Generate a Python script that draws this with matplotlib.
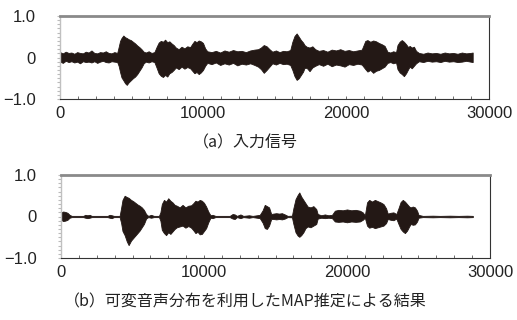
import matplotlib
matplotlib.use("Agg")
import matplotlib.pyplot as plt
from matplotlib.ticker import MultipleLocator

plt.rcParams['font.family'] = ['Liberation Sans', 'DejaVu Sans']

# ---------------- data (envelopes) ----------------
x_ticks = [0, 10000, 20000, 30000]
x_tick_labels = ["0", "10000", "20000", "30000"]
y_ticks = [-1.0, 0.0, 1.0]
y_tick_labels = ["\u22121.0", "0", "1.0"]

caption_a = "（a）入力信号"
caption_b = "（b）可変音声分布を利用したMAP推定による結果"

a_samples = [0, 200, 400, 600, 800, 1000, 1200, 1400, 1600, 1800, 2000, 2200, 2400, 2600, 2800,
             3000, 3200, 3400, 3600, 3800, 4000,
             4100, 4200, 4300, 4430, 4550, 4670, 4800, 4950, 5100, 5250, 5400, 5550, 5700, 5850,
             6000, 6200, 6400, 6600,
             6760, 6900, 7050, 7200, 7350, 7500, 7650, 7800, 7950,
             8100, 8300, 8500, 8700, 8900, 9100,
             9250, 9400, 9550, 9700, 9850, 10000, 10150,
             10300, 10600, 10900, 11200, 11500, 11800, 12100, 12400, 12700, 13000, 13300, 13600, 13850,
             14050, 14250, 14450, 14650,
             14850, 15100, 15350, 15600, 15850, 16100,
             16250, 16400, 16550, 16700, 16850, 17000, 17100,
             17250, 17450, 17650, 17850,
             18100, 18400, 18700, 19000, 19300, 19600, 19900, 20200, 20500, 20800, 21100,
             21350, 21500, 21700, 21900, 22100, 22300, 22500, 22700,
             22900, 23100, 23300, 23500,
             23600, 23750, 23900, 24050, 24200, 24350,
             24450, 24600, 24750, 24900,
             25100, 25400, 25700, 26000, 26300, 26600, 26900, 27200, 27500, 27800, 28100, 28400, 28700, 28860]
a_upper = [0.13, 0.10, 0.14, 0.11, 0.12, 0.09, 0.13, 0.11, 0.10, 0.14, 0.12, 0.17, 0.11, 0.10, 0.13,
           0.12, 0.15, 0.11, 0.10, 0.13, 0.11,
           0.25, 0.40, 0.47, 0.53, 0.49, 0.47, 0.44, 0.42, 0.38, 0.34, 0.29, 0.25, 0.20, 0.14,
           0.12, 0.15, 0.11, 0.13,
           0.26, 0.36, 0.40, 0.38, 0.43, 0.37, 0.39, 0.34, 0.30,
           0.24, 0.20, 0.26, 0.22, 0.27, 0.25,
           0.33, 0.40, 0.37, 0.41, 0.39, 0.35, 0.22,
           0.15, 0.13, 0.16, 0.12, 0.17, 0.14, 0.18, 0.15, 0.16, 0.13, 0.17, 0.19, 0.20,
           0.24, 0.30, 0.27, 0.20,
           0.14, 0.17, 0.13, 0.16, 0.15, 0.18,
           0.38, 0.52, 0.58, 0.50, 0.42, 0.36, 0.30,
           0.26, 0.24, 0.27, 0.20,
           0.16, 0.18, 0.14, 0.19, 0.17, 0.20, 0.16, 0.18, 0.15, 0.17, 0.19,
           0.40, 0.42, 0.38, 0.41, 0.39, 0.35, 0.32, 0.28,
           0.14, 0.12, 0.15, 0.13,
           0.30, 0.38, 0.42, 0.38, 0.32, 0.25,
           0.28, 0.24, 0.26, 0.16,
           0.11, 0.09, 0.12, 0.10, 0.11, 0.09, 0.12, 0.10, 0.11, 0.09, 0.12, 0.10, 0.11, 0.12]
a_lower = [-0.10, -0.13, -0.08, -0.11, -0.09, -0.12, -0.10, -0.14, -0.09, -0.11, -0.10, -0.12, -0.09, -0.13, -0.10,
           -0.08, -0.11, -0.12, -0.09, -0.10, -0.11,
           -0.20, -0.35, -0.48, -0.55, -0.62, -0.66, -0.60, -0.55, -0.50, -0.46, -0.40, -0.32, -0.24, -0.14,
           -0.10, -0.12, -0.09, -0.11,
           -0.25, -0.38, -0.44, -0.47, -0.42, -0.46, -0.38, -0.35, -0.30,
           -0.24, -0.28, -0.22, -0.27, -0.23, -0.26,
           -0.32, -0.38, -0.35, -0.40, -0.36, -0.30, -0.20,
           -0.13, -0.16, -0.12, -0.18, -0.14, -0.17, -0.13, -0.19, -0.15, -0.17, -0.14, -0.18, -0.22,
           -0.28, -0.37, -0.30, -0.22,
           -0.14, -0.17, -0.13, -0.16, -0.15, -0.18,
           -0.30, -0.45, -0.54, -0.50, -0.42, -0.34, -0.25,
           -0.25, -0.33, -0.24, -0.20,
           -0.16, -0.20, -0.15, -0.21, -0.17, -0.19, -0.22, -0.16, -0.18, -0.15, -0.17,
           -0.28, -0.34, -0.30, -0.37, -0.32, -0.30, -0.26, -0.22,
           -0.13, -0.11, -0.14, -0.12,
           -0.28, -0.36, -0.40, -0.45, -0.38, -0.28,
           -0.22, -0.26, -0.20, -0.14,
           -0.09, -0.11, -0.08, -0.10, -0.09, -0.11, -0.08, -0.10, -0.09, -0.11, -0.10, -0.08, -0.10, -0.11]

b_samples = [0, 150, 300, 450, 600,
             750, 1200, 1550,
             1700, 1850, 2000, 2150,
             2700, 3250,
             3400, 3550, 3700,
             4100,
             4200, 4300, 4450, 4600, 4730, 4900, 5050, 5200, 5350, 5500, 5650, 5800, 5950,
             6100, 6300, 6500, 6850,
             6950, 7050, 7200, 7350, 7500, 7650, 7800, 7950,
             8100, 8300, 8500, 8700, 8900, 9100,
             9250, 9400, 9550, 9700, 9850, 10000, 10150, 10300, 10450,
             10600, 10800, 11800, 12000, 12150, 12300, 12550, 12750, 13150, 13400, 13900,
             14100, 14250, 14400, 14550, 14700,
             14850, 15050, 15250, 15450, 15650,
             15850, 16150,
             16250, 16400, 16550, 16665, 16800, 16950, 17100,
             17250, 17450, 17650, 17850, 17950,
             18200, 18450, 18700, 18950,
             19150, 19400, 19700, 20000, 20300, 20600, 20900, 21100,
             21250,
             21400, 21550, 21750, 21950, 22150, 22350, 22550, 22730,
             22850, 23050, 23250, 23450,
             23600, 23750, 23900, 24050, 24200, 24350,
             24450, 24600, 24750, 24900, 25000,
             25300, 26000, 26500, 27200, 27800, 28400, 28800]
b_upper = [0.10, 0.12, 0.11, 0.09, 0.04,
           0.015, 0.015, 0.015,
           0.04, 0.03, 0.04, 0.015,
           0.015, 0.015,
           0.04, 0.03, 0.015,
           0.015,
           0.20, 0.40, 0.50, 0.47, 0.45, 0.40, 0.37, 0.33, 0.29, 0.26, 0.22, 0.16, 0.06,
           0.015, 0.04, 0.015, 0.015,
           0.10, 0.30, 0.40, 0.36, 0.44, 0.38, 0.34, 0.28,
           0.26, 0.22, 0.28, 0.22, 0.26, 0.27,
           0.32, 0.38, 0.36, 0.40, 0.38, 0.33, 0.24, 0.12, 0.03,
           0.04, 0.015, 0.015, 0.06, 0.05, 0.015, 0.05, 0.015, 0.03, 0.015, 0.04,
           0.15, 0.28, 0.25, 0.22, 0.06,
           0.07, 0.08, 0.07, 0.08, 0.05,
           0.015, 0.02,
           0.20, 0.42, 0.52, 0.58, 0.48, 0.40, 0.32,
           0.24, 0.22, 0.25, 0.18, 0.06,
           0.03, 0.05, 0.03, 0.04,
           0.14, 0.16, 0.15, 0.17, 0.15, 0.16, 0.14, 0.10,
           0.03,
           0.34, 0.40, 0.36, 0.40, 0.37, 0.34, 0.30, 0.20,
           0.07, 0.09, 0.10, 0.06,
           0.20, 0.35, 0.40, 0.36, 0.30, 0.24,
           0.22, 0.24, 0.22, 0.14, 0.04,
           0.015, 0.02, 0.015, 0.02, 0.015, 0.02, 0.015]
b_lower = [-0.08, -0.11, -0.10, -0.08, -0.03,
           -0.015, -0.015, -0.015,
           -0.03, -0.04, -0.03, -0.015,
           -0.015, -0.015,
           -0.03, -0.04, -0.015,
           -0.015,
           -0.15, -0.35, -0.45, -0.60, -0.69, -0.58, -0.52, -0.46, -0.40, -0.34, -0.26, -0.18, -0.05,
           -0.015, -0.03, -0.015, -0.015,
           -0.10, -0.32, -0.40, -0.45, -0.38, -0.42, -0.36, -0.30,
           -0.26, -0.24, -0.22, -0.27, -0.23, -0.27,
           -0.33, -0.40, -0.37, -0.43, -0.42, -0.35, -0.28, -0.14, -0.03,
           -0.04, -0.015, -0.015, -0.05, -0.06, -0.015, -0.04, -0.015, -0.03, -0.015, -0.04,
           -0.15, -0.28, -0.30, -0.22, -0.06,
           -0.06, -0.07, -0.06, -0.07, -0.05,
           -0.015, -0.02,
           -0.18, -0.38, -0.46, -0.49, -0.45, -0.38, -0.28,
           -0.24, -0.26, -0.22, -0.18, -0.05,
           -0.03, -0.04, -0.03, -0.04,
           -0.12, -0.13, -0.12, -0.14, -0.12, -0.13, -0.12, -0.08,
           -0.03,
           -0.22, -0.27, -0.25, -0.28, -0.26, -0.24, -0.22, -0.16,
           -0.06, -0.08, -0.09, -0.05,
           -0.18, -0.30, -0.36, -0.40, -0.34, -0.24,
           -0.18, -0.20, -0.19, -0.12, -0.03,
           -0.015, -0.02, -0.015, -0.02, -0.015, -0.02, -0.015]

# ---------------- drawing ----------------
W, H = 517, 320
fig = plt.figure(figsize=(W / 100, H / 100), dpi=100)
wave_color = "#231815"


def make_axes(rect, xs, up, lo):
    ax = fig.add_axes(rect)
    ax.fill_between(xs, lo, up, color=wave_color, linewidth=0.6, edgecolor=wave_color)
    ax.set_xlim(0, 30000)
    ax.set_ylim(-1.0, 1.0)
    ax.set_xticks(x_ticks)
    ax.set_xticklabels(x_tick_labels)
    ax.set_yticks(y_ticks)
    ax.set_yticklabels(y_tick_labels)
    ax.xaxis.set_minor_locator(MultipleLocator(1250))
    ax.yaxis.set_minor_locator(MultipleLocator(0.1))
    ax.tick_params(axis='x', which='both', direction='in', length=2.5, width=0.6,
                   color='#555555', labelsize=12, pad=5, labelcolor='#222222')
    ax.tick_params(axis='y', which='both', direction='out', length=2.5, width=0.8,
                   color='#bbbbbb', labelsize=12, pad=15, labelcolor='#222222')
    ax.spines['top'].set_color('#8a8a8a')
    ax.spines['top'].set_linewidth(2.0)
    ax.spines['left'].set_color('#c0c0c0')
    ax.spines['left'].set_linewidth(1.0)
    ax.spines['right'].set_color('#333333')
    ax.spines['right'].set_linewidth(0.8)
    ax.spines['bottom'].set_color('#333333')
    ax.spines['bottom'].set_linewidth(0.8)
    return ax


ax1 = make_axes([60 / W, 1 - 99 / H, 429 / W, 83 / H], a_samples, a_upper, a_lower)
ax2 = make_axes([61 / W, 1 - 258 / H, 429 / W, 83 / H], b_samples, b_upper, b_lower)

cap_font = ['Noto Sans CJK JP', 'DejaVu Sans']
fig.text(245 / W, 1 - 143 / H, caption_a, ha='center', va='center', fontsize=11.5,
         family=cap_font, color='#222222')
fig.text(245 / W, 1 - 302 / H, caption_b, ha='center', va='center', fontsize=11.5,
         family=cap_font, color='#222222')

fig.savefig("out.png", dpi=100)
